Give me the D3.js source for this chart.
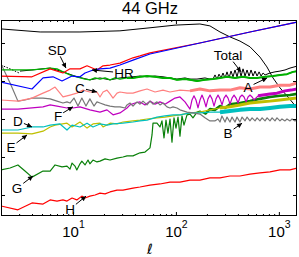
<!DOCTYPE html>
<meta charset="utf-8">
<style>
body { margin: 0; background: #fff; }
text { font-family: "Liberation Sans", Arial, sans-serif; }
</style>
<svg width="299" height="257"></svg>
<script src="https://d3js.org/d3.v7.min.js"></script>
<script>
// multipole values and log10 of the power

// thin smooth black curve (top)
var ellSmooth = [2,4.8,11.7,28.6,56,98,171,214,268,335,419,524,655,766,877,1025,1225,1500];
var lgSmooth  = [4.37,4.29,4.29,4.32,4.40,4.47,4.50,4.45,4.29,4.16,4.05,3.90,3.63,3.37,3.08,2.82,2.58,2.29];

// HR (blue)
var ellHR = [2,4,5.12,6.4,7.83,9.8,11.7,13.1,15.7,18.3,22.9,28.6,38.3,56,171,524,1500];
var lgHR  = [2.97,2.79,3.08,3.11,3.00,3.13,3.11,3.21,3.29,3.32,3.34,3.42,3.55,3.71,4.00,4.29,4.55];

// SD (red)
var ellSD = [2,4,6,8,9.36,11.7,13.7,17.1,19.6,22.9,28.6,38.3,44.8,56,171,524,1500];
var lgSD  = [3.13,3.11,3.32,3.21,3.32,3.32,3.40,3.29,3.40,3.42,3.47,3.61,3.66,3.74,4.00,4.29,4.55];

// Total, dotted low-ell part and noisy part
var ellTotDot = [2,2.45,3.0];
var lgTotDot  = [3.42,3.32,3.21];
var ellTotal = [3.06,4,6,8,10.9,14.6,18.3,22.9,28.6,38.3,44.8,52.4,62.7,74.9,87.6,102.4,122.5,137,160.2,191.5,214,
  229.2,239.7,250.7,262.2,274.2,286.7,299.9,313.6,328.0,343.0,358.7,375.1,392.3,410.3,429.1,448.7,469.3,490.8,513.3,536.8,561.3,587.0,613.9,642.1,671.5,702.2,734.4,
  821,917,1025,1147,1283,1500];
var lgTotal  = [3.26,3.29,3.34,3.24,3.11,3.03,3.08,3.03,3.08,3.11,3.13,3.11,3.13,3.11,3.08,3.05,3.08,3.05,3.05,3.08,3.05,
  3.05,3.16,3.05,3.18,3.08,3.21,3.08,3.24,3.08,3.26,3.11,3.29,3.11,3.32,3.13,3.32,3.13,3.29,3.13,3.29,3.13,3.26,3.13,3.24,3.13,3.21,3.16,
  3.21,3.24,3.26,3.29,3.34,3.39];

// A (green)
var ellA = [2,2.92,4,5.12,6,7,8,9.36,10.9,13.1,14.6,16.4,18.3,20.5,22.9,25.6,28.6,33.5,38.3,44.8,52.4,62.7,74.9,87.6,102.4,122.5,137,160.2,191.5,229,268,313.6,375,448,524,613,733,877,1025,1199,1372,1500];
var lgA  = [3.29,3.29,3.29,3.32,3.34,3.32,3.24,3.16,3.11,3.05,3.03,3.08,3.05,3.08,3.03,3.08,3.05,3.08,3.08,3.11,3.13,3.11,3.08,3.08,3.03,3.05,3.03,3.00,3.03,3.05,3.08,3.11,3.08,3.11,3.08,3.08,3.11,3.13,3.16,3.18,3.24,3.26];

// B (gray)
var ellB = [2,2.45,2.92,3.42,4,5.12,6,7,8,8.75,9.36,10.23,11.19,12.2,13.38,14.6,16,17.1,18.3,20.5,22.9,25.6,28.6,32,33.5,35.8,38.3,41.9,44.8,47.9,52.4,56,59.9,65.5,70,74.9,81.9,87.6,93.7,102.4,109.5,128.1,146.5,171.3,191.5,214,239,256,
  268,280,300,313.6,335,350.8,375,392,419,439,469,491,524,549,587,614,655,687,734,768,820,859,917,958,1025,1072,1147,1199,1283,1342,1434,1500];
var lgB  = [3.45,2.95,2.47,2.50,2.55,2.55,2.53,2.47,2.42,2.45,2.42,2.55,2.34,2.55,2.34,2.53,2.34,2.45,2.42,2.37,2.34,2.32,2.32,2.29,2.37,2.42,2.34,2.45,2.39,2.47,2.37,2.47,2.39,2.45,2.37,2.42,2.32,2.29,2.32,2.29,2.24,2.18,2.16,2.13,2.03,1.95,1.95,2.00,
  1.92,2.08,1.92,2.05,1.92,2.05,1.92,2.05,1.92,2.05,1.95,2.05,1.95,2.03,1.95,2.03,1.95,2.03,1.95,2.03,1.95,2.03,1.95,2.03,1.95,2.00,1.95,2.00,1.95,2.00,1.95,1.97];

// C (pink)
var ellC = [2,2.92,4,5.12,6,6.7,7.48,8,9.36,10.9,12.5,14.6,17.1,18.3,19.6,21.4,22.9,24.5,26.8,28.6,33.5,38.3,44.8,52.4,62.7,74.9,87.6,109.5,137,171,214,268,335,419,524,655,820,1025,1283,1500];
var lgC  = [2.50,2.47,2.55,2.68,2.76,2.84,2.68,2.58,2.63,2.68,2.76,2.71,2.71,2.58,2.71,2.76,2.66,2.55,2.68,2.71,2.68,2.68,2.74,2.79,2.71,2.76,2.71,2.76,2.74,2.79,2.74,2.76,2.76,2.82,2.79,2.84,2.84,2.89,2.89,2.95];

// F (magenta)
var ellF = [2,2.92,4,5.12,6,7,8.75,10,11.7,14.6,18.3,21.4,24.5,28.6,33.5,35.8,40.1,44.8,50.1,56,62.7,70,78.3,87.6,98,109.5,122.5,
  137,143.3,149.8,156.7,163.9,171.4,179.2,187.4,196,205,214.4,224.2,234.5,245.2,256.4,268.2,280.5,293.3,306.7,320.8,335.5,350.8,366.9,383.7,401.3,419.6,438.8,459,480,502,524.9,549,574.1,627.9,702,820,958,1147,1312,1500];
var lgF  = [2.26,2.26,2.29,2.32,2.37,2.34,2.29,2.29,2.32,2.24,2.18,2.24,2.11,2.16,2.29,2.37,2.42,2.45,2.37,2.47,2.39,2.45,2.39,2.47,2.55,2.58,2.45,
  2.26,2.50,2.61,2.50,2.29,2.50,2.63,2.50,2.32,2.53,2.63,2.53,2.34,2.53,2.63,2.53,2.37,2.55,2.63,2.55,2.39,2.55,2.63,2.55,2.42,2.58,2.63,2.58,2.45,2.58,2.63,2.58,2.50,2.61,2.63,2.66,2.68,2.74,2.76,2.79];

// D (cyan)
var ellD = [2,2.92,4,5.12,6,7.48,8.75,9.8,11.7,13.7,15.65,18.3,21.4,24.5,30.6,38.3,44.8,52.4,65.5,78.3,93.7,109.5,137,171,214,268,335,419,524,655,820,1025,1283,1500];
var lgD  = [1.71,1.71,1.79,1.79,1.84,1.87,1.71,1.84,1.79,1.89,1.79,1.87,1.84,1.87,1.89,1.92,1.95,1.97,2.05,2.08,2.11,2.11,2.16,2.16,2.18,2.18,2.21,2.24,2.26,2.26,2.29,2.32,2.34,2.34];

// E (yellow)
var ellE = [2,2.92,4,5.12,6,6.7,8.75,9.8,11.7,13.7,15.65,18.3,19.6,22.9,26.8,30.6,38.3,44.8,52.4,65.5,78.3,93.7,109.5,137,171,214,268,335,419,524,655,820,1025,1283,1500];
var lgE  = [1.63,1.63,1.61,1.68,1.79,1.84,1.89,1.79,1.92,1.76,1.87,1.89,1.79,1.89,1.87,1.92,1.95,1.97,2.00,2.03,2.05,2.08,2.11,2.16,2.18,2.24,2.29,2.32,2.37,2.42,2.45,2.47,2.50,2.53,2.55];

// G (dark green)
var ellG = [2,2.45,2.92,3.42,4,5.12,6,6.7,7.83,8.75,9.36,9.8,10.46,10.9,11.7,12.2,13.1,14,14.6,15.65,17.1,18.3,20.5,22.9,26.8,30.6,33.5,38.3,44.8,50.1,
  56,58.6,59.9,65.5,70,73.2,76.6,80.1,83.7,87.6,91.6,95.8,100.2,104.8,109.5,114.5,119.8,128.1,137,146.5,160.2,171.3,191.5,214,239,268,300,335,419,524,655,820,1025,1283,1500];
var lgG  = [0.66,0.71,0.79,0.63,0.47,0.63,0.63,0.79,0.74,0.76,0.68,0.84,0.76,0.66,0.82,0.89,0.79,0.92,0.82,0.92,0.87,0.89,0.95,0.92,0.97,1.00,1.03,1.03,1.11,1.13,
  1.24,1.58,1.89,1.89,1.79,1.95,1.50,1.97,1.63,2.00,1.39,2.03,1.76,2.05,1.55,2.08,1.84,2.11,2.13,2.03,2.18,2.21,2.13,2.26,2.24,2.34,2.29,2.39,2.42,2.47,2.53,2.58,2.61,2.63,2.66];

// H (red)
var ellH = [2,2.92,4,5.12,6,7,8,8.75,9.8,10.9,12.2,13.1,14.6,16.4,18.3,20.5,22.9,26.8,30.6,38.3,44.8,56,70,87.6,109.5,137,171,214,268,335,419,524,655,820,1025,1283,1500];
var lgH  = [-0.29,-0.39,-0.21,-0.24,-0.13,-0.16,-0.13,-0.16,-0.08,-0.13,-0.03,-0.08,-0.03,0.00,0.05,0.03,0.08,0.13,0.13,0.18,0.21,0.26,0.29,0.34,0.34,0.39,0.39,0.45,0.45,0.50,0.50,0.55,0.58,0.61,0.66,0.66,0.71];

// annotations: label, text centre (ell, lg), arrow tip (ell, lg)
var annLabels = ["SD","HR","C","F","D","E","G","H","B","A","Total"];
var annEll    = [7.0,31.3,11.7,7.16,2.92,2.50,2.86,9.36,321,502,321];
var annLg     = [3.82,3.21,2.82,2.08,1.95,1.26,0.18,-0.37,1.63,2.84,3.68];
var tipEll    = [8.55,15.3,17.1,10,4.0,3.58,4.09,13.4,439,768,429];
var tipLg     = [3.34,3.29,2.71,2.32,1.79,1.58,0.50,-0.03,1.89,3.08,3.24];

var xMajor = [10,100,1000];
var yMajor = [1,10,100,1000,10000];

var svg = d3.select("svg");

var x = d3.scaleLog().domain([2,1500]).range([1,297]);
var y = d3.scaleLog().domain([Math.pow(10,-0.553), Math.pow(10,4.605)]).range([216,20]);

function pts(ell, lg) { return ell.map(function(e,i){ return [e, lg[i]]; }); }

var line = d3.line()
    .x(function(d){ return x(d[0]); })
    .y(function(d){ return y(Math.pow(10,d[1])); });

svg.append("defs").append("clipPath").attr("id","clip")
  .append("rect").attr("x",1).attr("y",20).attr("width",296).attr("height",196);

svg.append("defs").append("marker")
    .attr("id","head").attr("viewBox","0 0 10 10").attr("refX",10).attr("refY",5)
    .attr("markerWidth",6).attr("markerHeight",5).attr("markerUnits","userSpaceOnUse")
    .attr("orient","auto")
  .append("path").attr("d","M0,0L10,5L0,10z").attr("fill","#000");

var series = [
  {d: pts(ellSmooth,lgSmooth), c:"#000", w:1},
  {d: pts(ellH,lgH), c:"#ff0000", w:1.2},
  {d: pts(ellG,lgG), c:"#0a800a", w:1.2, band:190, bw:2.6},
  {d: pts(ellE,lgE), c:"#bfbf00", w:1.2, band:250, bw:3},
  {d: pts(ellD,lgD), c:"#00bfbf", w:1.2, band:250, bw:4},
  {d: pts(ellF,lgF), c:"#bf00bf", w:1.2, band:600, bw:3},
  {d: pts(ellB,lgB), c:"#777777", w:1.2},
  {d: pts(ellC,lgC), c:"#ff8080", w:1.2, band:120, bw:3},
  {d: pts(ellTotDot,lgTotDot), c:"#000", w:1, dash:"1.5,1.5"},
  {d: pts(ellTotal,lgTotal), c:"#000", w:1},
  {d: pts(ellA,lgA), c:"#00b000", w:1.3, band:30, bw:2},
  {d: pts(ellSD,lgSD), c:"#ff0000", w:1.2},
  {d: pts(ellHR,lgHR), c:"#0000ff", w:1.2}
];

var plot = svg.append("g").attr("clip-path","url(#clip)");

series.forEach(function(s) {
  plot.append("path")
      .datum(s.d)
      .attr("fill","none")
      .attr("stroke",s.c)
      .attr("stroke-width",s.w)
      .attr("stroke-dasharray",s.dash || null)
      .attr("stroke-linejoin","round")
      .attr("d",line);
  if (s.band) {
    plot.append("path")
        .datum(s.d.filter(function(p){ return p[0] >= s.band; }))
        .attr("fill","none")
        .attr("stroke",s.c)
        .attr("stroke-width",s.bw)
        .attr("stroke-linejoin","round")
        .attr("d",line);
  }
});

// axes, ticks pointing inward
var minor = x.ticks().filter(function(t){ return xMajor.indexOf(t) < 0; });

svg.append("g").attr("transform","translate(0,216)")
    .call(d3.axisBottom(x).tickValues(minor).tickSize(-2).tickFormat(""))
  .select(".domain").remove();
var gx = svg.append("g").attr("transform","translate(0,216)")
    .call(d3.axisBottom(x).tickValues(xMajor).tickSize(-4).tickFormat(""));
gx.select(".domain").remove();
gx.selectAll(".tick text").remove();
var lab = gx.selectAll(".tick").append("text")
    .attr("y",21).attr("fill","#000").attr("text-anchor","middle").attr("font-size",15);
lab.append("tspan").text("10");
lab.append("tspan").attr("dy",-9).attr("font-size",10.5)
    .text(function(d){ return Math.round(Math.log10(d)); });

svg.append("g").attr("transform","translate(0,20)")
    .call(d3.axisTop(x).tickValues(minor).tickSize(-2).tickFormat(""))
  .select(".domain").remove();
svg.append("g").attr("transform","translate(0,20)")
    .call(d3.axisTop(x).tickValues(xMajor).tickSize(-4).tickFormat(""))
  .select(".domain").remove();

svg.append("g").attr("transform","translate(1,0)")
    .call(d3.axisLeft(y).tickValues(yMajor).tickSize(-4).tickFormat(""))
  .select(".domain").remove();
svg.append("g").attr("transform","translate(297,0)")
    .call(d3.axisRight(y).tickValues(yMajor).tickSize(-4).tickFormat(""))
  .select(".domain").remove();

svg.append("rect")
    .attr("x",1.5).attr("y",20.5).attr("width",295).attr("height",195)
    .attr("fill","none").attr("stroke","#000").attr("stroke-width",1);

// annotations
annLabels.forEach(function(name, i) {
  var cx = x(annEll[i]), cy = y(Math.pow(10,annLg[i]));
  var tx = x(tipEll[i]), ty = y(Math.pow(10,tipLg[i]));
  var t = svg.append("text")
      .attr("x",cx).attr("y",cy).attr("dy","0.36em")
      .attr("text-anchor","middle").attr("font-size",13.5).attr("fill","#000")
      .text(name);
  var b = t.node().getBBox();
  var dx = tx - cx, dy = ty - cy;
  var hw = b.width/2 + 1, hh = (b.height/2) - 1;
  var k = Math.min(Math.abs(dx) > 0 ? hw/Math.abs(dx) : 1e9, Math.abs(dy) > 0 ? hh/Math.abs(dy) : 1e9);
  svg.append("line")
      .attr("x1",cx + dx*k).attr("y1",cy + dy*k)
      .attr("x2",tx).attr("y2",ty)
      .attr("stroke","#000").attr("stroke-width",1)
      .attr("marker-end","url(#head)");
});

svg.append("text")
    .attr("x",150).attr("y",14).attr("text-anchor","middle")
    .attr("font-size",16.5).text("44 GHz");

svg.append("text")
    .attr("x",150).attr("y",254).attr("text-anchor","middle")
    .attr("font-size",14).attr("font-style","italic")
    .style("font-family","'DejaVu Sans', sans-serif").text("ℓ");
</script>
